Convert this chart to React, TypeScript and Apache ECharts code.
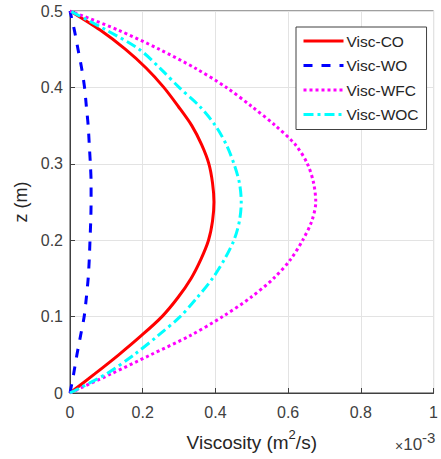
import React, { useEffect, useRef } from "react";
import * as echarts from "echarts";

const zValues = [0, 0.025, 0.05, 0.075, 0.1, 0.125, 0.15, 0.175, 0.2, 0.225, 0.25, 0.275, 0.3, 0.325, 0.35, 0.375, 0.4, 0.425, 0.45, 0.475, 0.5];
// viscosity in units of 1e-3 m^2/s
const viscCO = [0, 0.068, 0.134, 0.196, 0.253, 0.297, 0.333, 0.36, 0.381, 0.392, 0.396, 0.392, 0.382, 0.362, 0.335, 0.298, 0.258, 0.21, 0.152, 0.083, 0];
const viscWO = [0, 0.01, 0.019, 0.029, 0.039, 0.045, 0.05, 0.053, 0.055, 0.057, 0.058, 0.058, 0.056, 0.053, 0.05, 0.045, 0.04, 0.032, 0.022, 0.012, 0];
const viscWFC = [0, 0.113, 0.222, 0.33, 0.42, 0.497, 0.56, 0.607, 0.64, 0.665, 0.676, 0.67, 0.653, 0.62, 0.565, 0.5, 0.43, 0.345, 0.245, 0.133, 0];
const viscWOC = [0, 0.1, 0.176, 0.242, 0.303, 0.35, 0.392, 0.425, 0.451, 0.466, 0.471, 0.466, 0.451, 0.43, 0.4, 0.357, 0.3, 0.248, 0.19, 0.1, 0];
const seriesNames = ["Visc-CO", "Visc-WO", "Visc-WFC", "Visc-WOC"];
const xTicks = { min: 0, max: 1, interval: 0.2 };
const yTicks = { min: 0, max: 0.5, interval: 0.1 };

const pairs = (v: number[]) => v.map((x, i) => [x, zValues[i]]);

export default function App() {
  const ref = useRef<HTMLDivElement>(null);
  useEffect(() => {
    if (!ref.current) return;
    const chart = echarts.init(ref.current, null, { renderer: "svg" });
    const axisColor = "#404040";
    const textColor = "#262626";
    const font = "'Liberation Sans', Arial, sans-serif";
    const styles = [
      { color: "#ff0000", type: "solid" as any },
      { color: "#0000ff", type: [9, 9] as any },
      { color: "#ff00ff", type: [3, 3] as any },
      { color: "#00ffff", type: [10, 4, 3, 4] as any },
    ];
    const datas = [viscCO, viscWO, viscWFC, viscWOC];
    chart.setOption({
      animation: false,
      backgroundColor: "#ffffff",
      textStyle: { fontFamily: font },
      grid: {
        left: 70,
        top: 11,
        width: 372,
        height: 382,
        show: true,
        borderColor: axisColor,
        borderWidth: 1,
        backgroundColor: "transparent",
      },
      legend: {
        orient: "vertical",
        left: 296,
        top: 27,
        padding: [6, 8, 7, 6],
        itemWidth: 40,
        itemHeight: 14,
        itemGap: 8.5,
        borderColor: axisColor,
        borderWidth: 1,
        backgroundColor: "#ffffff",
        itemStyle: { opacity: 0 },
        lineStyle: { width: 3 },
        textStyle: { fontSize: 15.5, color: textColor, fontFamily: font, padding: [0, 0, 0, -2] },
        data: seriesNames,
      },
      xAxis: {
        type: "value",
        min: xTicks.min,
        max: xTicks.max,
        interval: xTicks.interval,
        name: "{n|Viscosity (m}{s|2}{n|/s)}",
        nameLocation: "middle",
        nameGap: 35,
        nameTextStyle: {
          fontSize: 19,
          color: textColor,
          fontFamily: font,
          rich: {
            n: { fontSize: 19, color: textColor, fontFamily: font, verticalAlign: "bottom", lineHeight: 24 },
            s: { fontSize: 13, color: textColor, fontFamily: font, verticalAlign: "top", lineHeight: 24 },
          },
        },
        axisLine: { show: true, lineStyle: { color: axisColor, width: 1 } },
        axisTick: { show: true, inside: true, length: 5, lineStyle: { color: axisColor } },
        axisLabel: { fontSize: 16, color: axisColor, margin: 11, fontFamily: font },
        splitLine: { show: true, lineStyle: { color: "#e3e3e3", width: 1 } },
      },
      yAxis: {
        type: "value",
        min: yTicks.min,
        max: yTicks.max,
        interval: yTicks.interval,
        name: "z (m)",
        nameLocation: "middle",
        nameGap: 40,
        nameTextStyle: { fontSize: 18, color: textColor, fontFamily: font },
        axisLine: { show: true, lineStyle: { color: axisColor, width: 1 } },
        axisTick: { show: true, inside: true, length: 5, lineStyle: { color: axisColor } },
        axisLabel: { fontSize: 16, color: axisColor, margin: 7, fontFamily: font },
        splitLine: { show: true, lineStyle: { color: "#e3e3e3", width: 1 } },
      },
      graphic: [
        {
          type: "text",
          left: 395,
          top: 430,
          style: {
            text: "{x|×}{b|10}{s|-3}",
            fill: axisColor,
            fontFamily: font,
            rich: {
              x: { fontSize: 14, fill: axisColor, fontFamily: font, verticalAlign: "bottom", lineHeight: 23 },
              b: { fontSize: 17, fill: axisColor, fontFamily: font, verticalAlign: "bottom", lineHeight: 23 },
              s: { fontSize: 15, fill: axisColor, fontFamily: font, verticalAlign: "top", lineHeight: 23 },
            },
          },
        },
      ],
      series: seriesNames.map((name, i) => ({
        name,
        type: "line",
        data: pairs(datas[i]),
        showSymbol: false,
        symbol: "none",
        smooth: 0.3,
        lineStyle: { color: styles[i].color, width: 3, type: styles[i].type },
        itemStyle: { color: styles[i].color },
      })),
    });
    return () => chart.dispose();
  }, []);
  return <div ref={ref} style={{ position: "absolute", left: 0, top: 0, width: 441, height: 459 }} />;
}
